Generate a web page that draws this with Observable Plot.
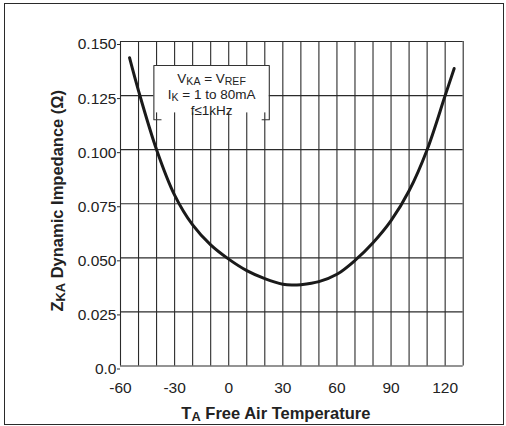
<!DOCTYPE html>
<html><head><meta charset="utf-8">
<script src="https://cdn.jsdelivr.net/npm/d3@7"></script>
<script src="https://cdn.jsdelivr.net/npm/@observablehq/plot@0.6"></script>
<style>
body{margin:0;background:#fff;}
#wrap{position:relative;width:506px;height:426px;overflow:hidden;}
#border{position:absolute;left:4px;top:3px;width:498px;height:420px;border:1.5px solid #2a2a2a;pointer-events:none;}
</style></head><body>
<div id="wrap"><div id="chart"></div><div id="border"></div></div>
<script>
// Curve: Z_KA dynamic impedance vs free-air temperature
const temperature = [-55, -50, -40, -30, -20, -10, 0, 10, 20, 30, 35, 40, 50, 60, 70, 80, 90, 100, 110, 120, 125];
const impedance   = [0.1425, 0.1272, 0.1000, 0.0790, 0.0652, 0.0560, 0.0494, 0.0441, 0.0404, 0.0378, 0.0374, 0.0376, 0.0390, 0.0424, 0.0488, 0.0570, 0.0672, 0.0810, 0.1000, 0.1250, 0.1375];

const xTicks = [-60, -30, 0, 30, 60, 90, 120];
const xGrid  = [-60, -50, -40, -30, -20, -10, 0, 10, 20, 30, 40, 50, 60, 70, 80, 90, 100, 110, 120, 130];
const yTicks = [0, 0.025, 0.05, 0.075, 0.1, 0.125, 0.15];

const xLabel = "T_{A} Free Air Temperature";
const yLabel = "Z_{KA} Dynamic Impedance (Ω)";
const noteLines = ["V_{KA} = V_{REF}", "I_{K} = 1 to 80mA", "f≤1kHz"];

// layout of the annotation box (data units)
const noteBox = {x1: -41.5, x2: 22.5, yTop: 0.1389, yFill: 0.117, yFoot: 0.1138, foot: 4};

const curve = temperature.map((t, i) => ({t, z: impedance[i]}));
const boxPath = [
  [noteBox.x1 + noteBox.foot, noteBox.yFoot], [noteBox.x1, noteBox.yFoot], [noteBox.x1, noteBox.yTop],
  [noteBox.x2, noteBox.yTop], [noteBox.x2, noteBox.yFoot], [noteBox.x2 - noteBox.foot, noteBox.yFoot]
];
const noteX = (noteBox.x1 + noteBox.x2) / 2;
const noteDy = [13.5, 29.5, 45];

const ink = "#222";
const chart = Plot.plot({
  width: 506, height: 426,
  marginLeft: 120, marginRight: 43.3, marginTop: 41, marginBottom: 60.5,
  style: {fontFamily: "'Liberation Sans', Arial, sans-serif", color: ink, background: "transparent"},
  x: {domain: [-60, 130]},
  y: {domain: [0, 0.15]},
  marks: [
    Plot.ruleX(xGrid, {stroke: "#2b2b2b", strokeWidth: 1.1}),
    Plot.ruleY(yTicks, {stroke: "#2b2b2b", strokeWidth: 1.1}),
    Plot.rect([noteBox], {x1: "x1", x2: "x2", y1: "yFill", y2: "yTop", fill: "white"}),
    Plot.line(boxPath, {x: d => d[0], y: d => d[1], stroke: "#333", strokeWidth: 1.1, curve: "linear"}),
    Plot.line(curve, {x: "t", y: "z", stroke: "#1a1a1a", strokeWidth: 3, curve: "catmull-rom"}),
    Plot.axisY(yTicks, {tickSize: 3, tickPadding: 1, dy: 3, fontSize: 15.5, label: null,
      tickFormat: d => d === 0 ? "0.0" : d.toFixed(3), stroke: "#2b2b2b"}),
    Plot.axisX(xTicks, {tickSize: 0, tickPadding: 16, fontSize: 15.5, label: null,
      tickFormat: d => String(d)}),
    ...noteLines.map((s, i) => Plot.text([s], {x: () => noteX, y: () => noteBox.yTop, text: d => d,
      dy: noteDy[i], fontSize: 13.5, fill: ink})),
    Plot.text([xLabel], {frameAnchor: "bottom", textAnchor: "middle", lineAnchor: "middle", text: d => d,
      dx: -16, dy: 47.5, fontSize: 16.5, fontWeight: "bold", fill: ink}),
    Plot.text([yLabel], {frameAnchor: "left", textAnchor: "middle", lineAnchor: "middle", text: d => d,
      dx: -63, dy: -3, rotate: -90, fontSize: 16.5, fontWeight: "bold", fill: ink})
  ]
});

// turn "_{...}" markup into subscript tspans
function richify(svg) {
  d3.select(svg).selectAll("text").each(function () {
    const t = this.textContent;
    if (!t.includes("_{")) return;
    const el = d3.select(this);
    el.text(null);
    const re = /_\{([^}]*)\}/g;
    let last = 0, m;
    const parts = [];
    while ((m = re.exec(t))) {
      if (m.index > last) parts.push([t.slice(last, m.index), false]);
      parts.push([m[1], true]);
      last = re.lastIndex;
    }
    if (last < t.length) parts.push([t.slice(last), false]);
    const fs = parseFloat(getComputedStyle(this).fontSize) || 14;
    const shift = fs * 0.12;
    let down = false;
    for (const [s, sub] of parts) {
      const ts = el.append("tspan").text(s);
      if (sub) {
        ts.attr("font-size", (fs * 0.78) + "px");
        if (!down) { ts.attr("dy", shift); down = true; }
      } else if (down) {
        ts.attr("dy", -shift); down = false;
      }
    }
  });
}
document.getElementById("chart").appendChild(chart);
richify(chart);
</script>
</body></html>
